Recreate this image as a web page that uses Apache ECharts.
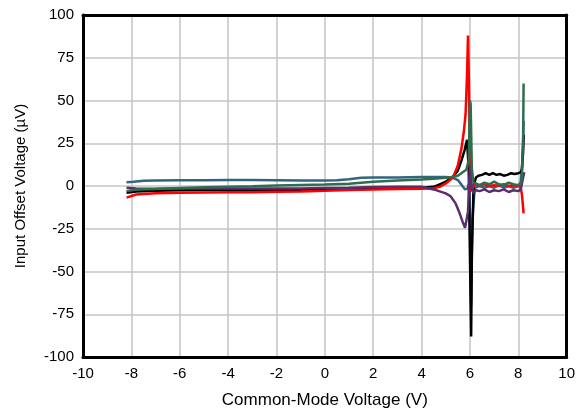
<!DOCTYPE html>
<html><head><meta charset="utf-8">
<script src="https://cdn.jsdelivr.net/npm/echarts@6/dist/echarts.min.js"></script>
<style>html,body{margin:0;padding:0;background:#fff}#c{width:578px;height:415px}</style>
</head><body><div id="c"></div>
<script>
const xTicks = [-10,-8,-6,-4,-2,0,2,4,6,8,10];
const yTicks = [-100,-75,-50,-25,0,25,50,75,100];

const blueX = [-8.2,-7.9,-7.5,-7,-6,-5,-4,-3,-2,-1,0,0.5,1,1.5,2,3,4,4.5,5,5.3,5.5,5.65,5.8,5.9,5.98,6.05,6.1,6.2,6.4,6.6,6.8,7.0,7.2,7.4,7.6,7.8,8.0,8.1,8.15,8.2,8.22];
const blueY = [2.2,2.5,3,3.2,3.3,3.4,3.5,3.5,3.4,3.2,3.2,3.4,4,4.8,5,5,5.2,5.3,5.2,4.8,3.5,0.8,-2,-1.5,2,-70,-20,-1,0,-1,0,-1,0.5,-1,0,-1,0,2,10,25,38];

const blackX = [-8.2,-7.8,-7,-6,-5,-4,-3,-2,-1,0,1,2,3,4,4.5,4.75,5,5.3,5.5,5.65,5.78,5.88,5.95,6.02,6.05,6.08,6.15,6.25,6.35,6.5,6.65,6.8,6.95,7.1,7.25,7.4,7.55,7.7,7.85,8.0,8.1,8.15,8.2,8.22];
const blackY = [-4,-3.2,-2.8,-2.5,-2.3,-2.2,-2.2,-2.3,-2.3,-2.1,-1.8,-1.3,-1.1,-1,-0.5,1,2.5,5.5,9,15,21,27,10,-60,-88,-40,0,5,6,6.5,7.5,6.5,7.5,6.5,7,6,6.5,7.5,7,7.5,8,10,20,30];

const redX = [-8.2,-7.8,-7,-6,-5,-4,-3,-2,-1,0,1,2,3,4,4.5,4.75,5,5.3,5.5,5.65,5.75,5.82,5.88,5.92,5.96,6.0,6.05,6.1,6.2,6.4,6.6,6.8,7.0,7.2,7.4,7.6,7.8,8.0,8.1,8.15,8.22];
const redY = [-6.8,-5,-4.3,-4,-3.8,-3.7,-3.6,-3.4,-3.2,-2.8,-2.3,-2,-1.8,-1.6,-1.3,-0.5,1.5,5,12,22,32,42,65,88,60,10,-3,-2,1,0.5,1,0,0.5,0.2,1,0,0.5,0.2,-1,-5,-16];

const purpleX = [-8.2,-7.8,-7,-6,-5,-4,-3,-2,-1,0,1,2,3,4,4.5,5.0,5.2,5.4,5.55,5.7,5.8,5.86,5.92,5.98,6.02,6.08,6.15,6.25,6.4,6.6,6.8,7.0,7.2,7.4,7.6,7.8,8.0,8.1,8.2,8.25];
const purpleY = [-1,-1.5,-1.6,-1.5,-1.5,-1.4,-1.4,-1.4,-1.4,-1.2,-1,-0.6,-0.5,-0.4,-2,-4.3,-6,-10,-15,-21,-24.5,-25,-15,5,12,-2,-4,-2.5,-3,-2,-3.5,-2.5,-3,-2,-3.5,-2.5,-3,-2,5,8];

const greenX = [-8.2,-7.8,-7,-6,-5,-4,-3,-2,-1,0,1,2,3,4,4.5,5,5.3,5.5,5.7,5.85,5.95,6.0,6.03,6.08,6.15,6.25,6.4,6.6,6.8,7.0,7.2,7.4,7.6,7.8,8.0,8.1,8.15,8.2,8.22];
const greenY = [-3,-2,-1.8,-1.2,-0.8,-0.5,-0.2,0.3,0.6,0.9,1.3,2.5,3.2,3.8,4.2,4.8,5.2,6,8,9.5,15,50,48,10,2,1.5,0.5,2,1,2.5,1,0.5,2,1,0.5,1.5,5,30,60];

function pairs(xs, ys){ return xs.map((x,i)=>[x, ys[i]]); }

const seriesDefs = [
  {name:'blue', color:'#336480', x:blueX, y:blueY},
  {name:'black', color:'#000000', x:blackX, y:blackY},
  {name:'red', color:'#ff0000', x:redX, y:redY},
  {name:'purple', color:'#5c2d6e', x:purpleX, y:purpleY},
  {name:'green', color:'#2e6e4e', x:greenX, y:greenY}
];

const chart = echarts.init(document.getElementById('c'), null, {renderer:'canvas'});
const font = 'Liberation Sans, Arial, sans-serif';
const xMin = xTicks[0], xMax = xTicks[xTicks.length-1];
const yMin = yTicks[0], yMax = yTicks[yTicks.length-1];
const border = {show:true, onZero:false, lineStyle:{color:'#000', width:3}};
chart.setOption({
  animation:false,
  backgroundColor:'#fff',
  grid:{left:83, right:11, top:15, bottom:58},
  xAxis:[{type:'value', min:xMin, max:xMax, interval:2, position:'bottom',
    name:'Common-Mode Voltage (V)', nameLocation:'middle', nameGap:35,
    nameTextStyle:{fontFamily:font, fontSize:17, color:'#000'},
    axisLine:border, axisTick:{show:false},
    axisLabel:{fontFamily:font, fontSize:15, color:'#000', margin:9},
    splitLine:{show:true, lineStyle:{color:'#c4c4c4', width:1.5}}},
    {type:'value', min:xMin, max:xMax, interval:2, position:'top',
    axisLine:border, axisTick:{show:false}, axisLabel:{show:false}, splitLine:{show:false}}],
  yAxis:[{type:'value', min:yMin, max:yMax, interval:25, position:'left',
    name:'Input Offset Voltage (µV)', nameLocation:'middle', nameGap:55,
    nameTextStyle:{fontFamily:font, fontSize:15, color:'#000'},
    axisLine:border, axisTick:{show:false},
    axisLabel:{fontFamily:font, fontSize:15, color:'#000', margin:9},
    splitLine:{show:true, lineStyle:{color:'#c4c4c4', width:1.5}}},
    {type:'value', min:yMin, max:yMax, interval:25, position:'right',
    axisLine:border, axisTick:{show:false}, axisLabel:{show:false}, splitLine:{show:false}}],
  series: seriesDefs.map(s=>({
    type:'line', name:s.name, data:pairs(s.x, s.y), showSymbol:false, symbol:'none',
    xAxisIndex:0, yAxisIndex:0,
    lineStyle:{color:s.color, width:2.5}, itemStyle:{color:s.color}, clip:true
  }))
});
</script></body></html>
